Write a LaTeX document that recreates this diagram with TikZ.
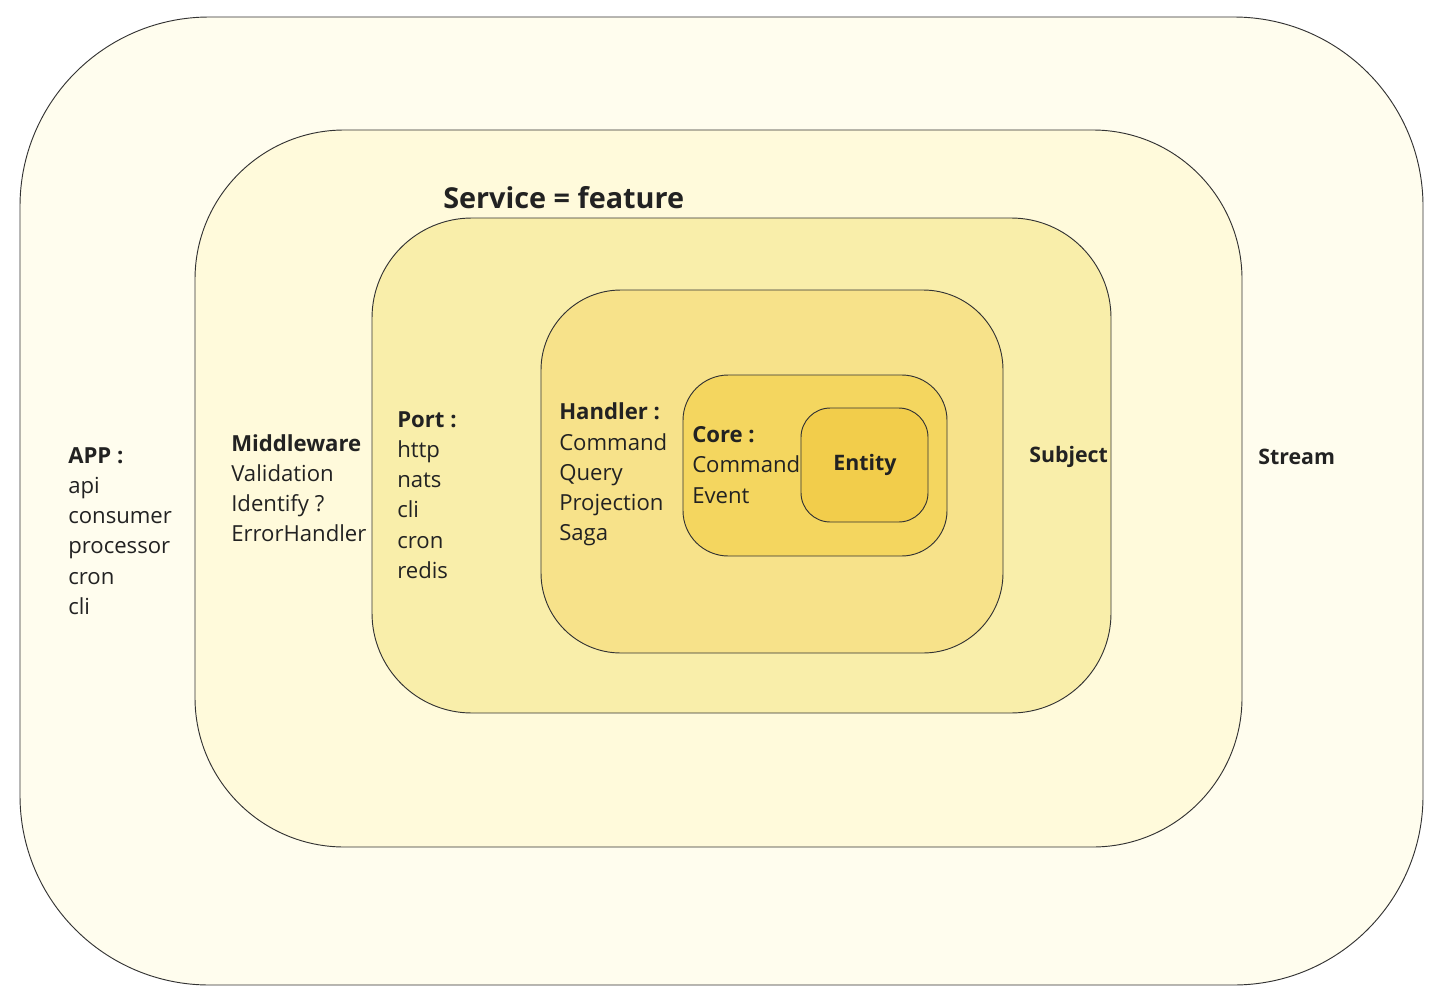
\documentclass[tikz,border=0pt]{standalone}
\usepackage{fontspec}
\setmainfont{Open Sans}
\definecolor{c1}{HTML}{FFFDEE}
\definecolor{c2}{HTML}{FFFADB}
\definecolor{c3}{HTML}{F9EEAA}
\definecolor{c4}{HTML}{F7E28A}
\definecolor{c5}{HTML}{F4D65F}
\definecolor{c6}{HTML}{F2CD4B}
\definecolor{ink}{HTML}{222222}
\definecolor{edge}{HTML}{333333}
\tikzset{
  layer/.style={draw=edge, line width=0.7pt},
  lbl/.style={inner sep=0pt, align=left, text=ink, font=\fontsize{16.6}{22.65}\selectfont},
  blbl/.style={inner sep=0pt, text=ink, font=\fontsize{16}{22.65}\selectfont\bfseries},
}
\begin{document}
\begin{tikzpicture}[x=0.75pt, y=-0.75pt]
\useasboundingbox (0,0) rectangle (1444,1002);
\fill[white] (0,0) rectangle (1444,1002);
\draw[layer, fill=c1, rounded corners=142pt] (20,17) rectangle (1423,985);
\draw[layer, fill=c2, rounded corners=112pt] (195,130) rectangle (1242,847);
\draw[layer, fill=c3, rounded corners=75pt] (372,218) rectangle (1111,713);
\draw[layer, fill=c4, rounded corners=60pt] (541,290) rectangle (1003,653);
\draw[layer, fill=c5, rounded corners=34pt] (683,375) rectangle (947,556);
\draw[layer, fill=c6, rounded corners=22pt] (801,408) rectangle (928,522);

\node[lbl, anchor=west] (app) at (68,531) {\textbf{APP :}\\api\\consumer\\processor\\cron\\cli};
\node[lbl, anchor=west] (mw) at (231,488) {\textbf{Middleware}\\Validation\\Identify ?\\ErrorHandler};
\node[lbl, anchor=west] (port) at (397,495) {\textbf{Port :}\\http\\nats\\cli\\cron\\redis};
\node[lbl, anchor=west] (handler) at (559,474.5) {\textbf{Handler :}\\Command\\Query\\Projection\\Saga};
\node[lbl, anchor=west] (core) at (692,465) {\textbf{Core :}\\Command\\Event};
\node[blbl] (entity) at (865,465) {Entity};
\node[blbl, anchor=west] (subject) at (1029,457) {Subject};
\node[blbl, anchor=west] (stream) at (1258,457) {Stream};
\node[inner sep=0pt, text=ink, anchor=west, font=\fontsize{21.6}{26}\selectfont\bfseries] (service) at (443,198) {Service = feature};
\end{tikzpicture}
\end{document}
